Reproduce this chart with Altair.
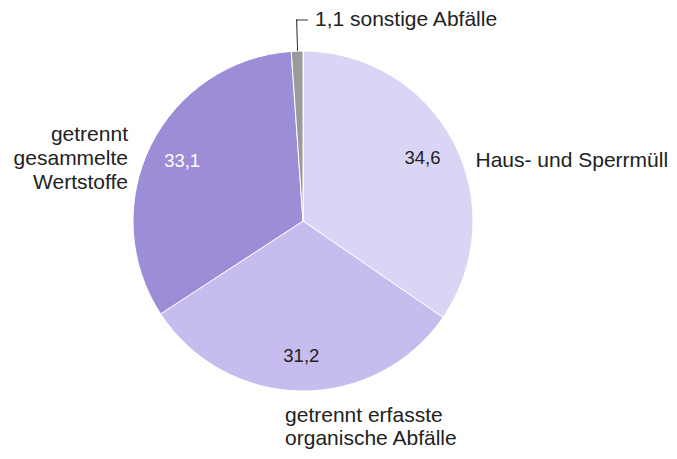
import altair as alt
import pandas as pd

categories = ["Haus- und Sperrmüll", "getrennt erfasste organische Abfälle",
              "getrennt gesammelte Wertstoffe", "sonstige Abfälle"]
values = [34.6, 31.2, 33.1, 1.1]
colors = ["#dad5f4", "#c6bced", "#9d8cd6", "#9a9a9a"]
value_text_colors = ["#222222", "#222222", "#ffffff", "#222222"]

df = pd.DataFrame({
    "cat": categories,
    "value": values,
    "ord": list(range(len(values))),
    "vlabel": [f"{v:.1f}".replace(".", ",") for v in values],
    "tcolor": value_text_colors,
})
total = sum(values)

CX, CY = 295, 213
R = 170
FONT = "Liberation Sans"
FS = 21
VFS = 18.5

base = alt.Chart(df).transform_window(
    cum="sum(value)", sort=[alt.SortField("ord")], frame=[None, 0]
).transform_calculate(
    start="datum.cum - datum.value",
    mid="datum.cum - datum.value / 2",
)

tscale = alt.Scale(domain=[0, total], range=[0, 6.283185307179586])

pie = base.mark_arc(radius=R, stroke="white", strokeWidth=1).encode(
    theta=alt.Theta("start:Q", scale=tscale),
    theta2="cum:Q",
    color=alt.Color("cat:N", scale=alt.Scale(domain=categories, range=colors), legend=None),
    x=alt.value(CX), y=alt.value(CY),
)

vals = base.transform_filter("datum.value > 5").mark_text(
    radius=135, font=FONT, fontSize=VFS, baseline="middle", align="center"
).encode(
    theta=alt.Theta("mid:Q", scale=tscale),
    text="vlabel:N",
    color=alt.Color("tcolor:N", scale=None),
    x=alt.value(CX), y=alt.value(CY),
)

def outer(idx, radius, align, dx, dy, lines, lh=24):
    return base.transform_filter(f"datum.ord == {idx}").transform_calculate(
        lbl=lines
    ).mark_text(
        radius=radius, font=FONT, fontSize=FS, align=align, baseline="middle",
        dx=dx, dy=dy, lineBreak="\n", lineHeight=lh, color="#222222"
    ).encode(
        theta=alt.Theta("mid:Q", scale=tscale),
        text="lbl:N",
        x=alt.value(CX), y=alt.value(CY),
    )

lab_haus = outer(0, 197.7, "left", -2.5, 32, "datum.cat")
lab_org = outer(1, 195, "left", -15.5, 0, "'getrennt erfasste\\norganische Abfälle'", 23)
lab_wert = outer(2, 195.5, "right", 0, 1, "'getrennt\\ngesammelte\\nWertstoffe'")
lab_sonst = base.transform_filter("datum.ord == 3").transform_calculate(
    lbl="datum.vlabel + ' ' + datum.cat"
).mark_text(
    radius=204, font=FONT, fontSize=FS, align="left", baseline="middle",
    dx=19, dy=3, color="#222222"
).encode(
    theta=alt.Theta("mid:Q", scale=tscale),
    text="lbl:N",
    x=alt.value(CX), y=alt.value(CY),
)

# leader line for the small slice
lead_v = base.transform_filter("datum.ord == 3").transform_calculate(
    t2="datum.mid + 0.09"
).mark_arc(radius=R, radius2=201.5, color="#333333").encode(
    theta=alt.Theta("mid:Q", scale=tscale),
    theta2="t2:Q",
    x=alt.value(CX), y=alt.value(CY),
)
lead_h = base.transform_filter("datum.ord == 3").transform_calculate(
    t2="datum.cum + 0.4"
).mark_arc(radius=200.5, radius2=201.6, color="#333333").encode(
    theta=alt.Theta("mid:Q", scale=tscale),
    theta2="t2:Q",
    x=alt.value(CX), y=alt.value(CY),
)

chart = alt.layer(pie, vals, lab_haus, lab_org, lab_wert, lab_sonst, lead_v, lead_h).properties(
    width=661, height=443, padding=0,
    autosize=alt.AutoSizeParams(type="none"),
).configure_view(stroke=None)

chart.save("out.html", embed_options={"renderer": "svg", "actions": False})
